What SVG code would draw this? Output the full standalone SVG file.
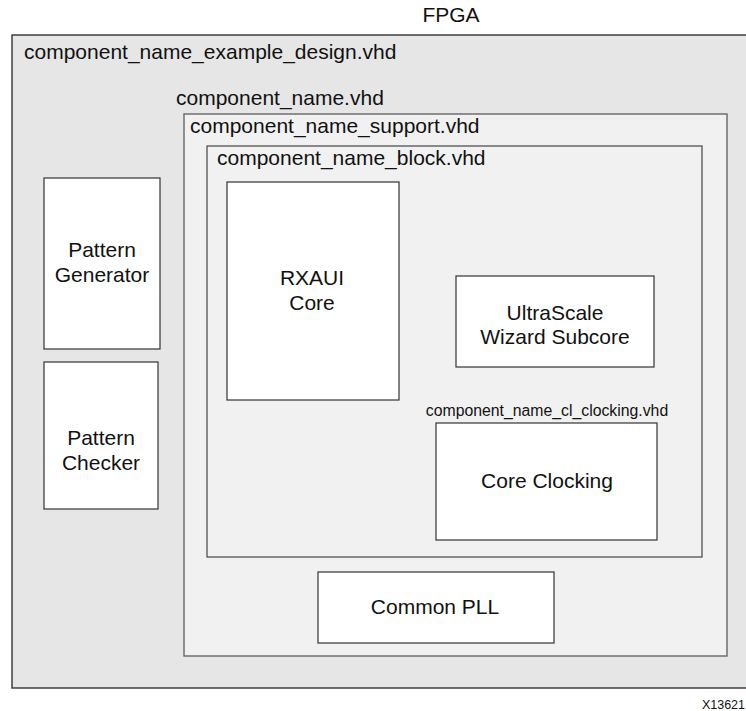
<svg xmlns="http://www.w3.org/2000/svg" width="746" height="711" viewBox="0 0 746 711">
<style>
text{font-family:"Liberation Sans",Arial,sans-serif;fill:#111}
.t{font-size:21px}
.c{text-anchor:middle}
.fpga{fill:#e6e6e6;stroke:#333;stroke-width:1.4}
.sup{fill:#f1f1f1;stroke:#666;stroke-width:1.4}
.blk{fill:#f1f1f1;stroke:#444;stroke-width:1.2}
.node{fill:#fff;stroke:#333;stroke-width:1.2}
</style>
<rect width="746" height="711" fill="#fff"/>
<text class="t c" x="451" y="22">FPGA</text>
<g id="example_design">
<rect class="fpga" x="12" y="35" width="740" height="653"/>
<text class="t" x="24" y="59">component_name_example_design.vhd</text>
</g>
<g id="component_name">
<text class="t" x="176" y="105">component_name.vhd</text>
</g>
<g id="support">
<rect class="sup" x="184" y="114" width="543" height="542"/>
<text class="t" x="190" y="133">component_name_support.vhd</text>
</g>
<g id="block">
<rect class="blk" x="207" y="146" width="495" height="411"/>
<text class="t" x="217" y="165">component_name_block.vhd</text>
</g>
<g id="pattern_generator">
<rect class="node" x="44" y="178" width="116" height="171"/>
<text class="t c" x="102" y="257">Pattern</text>
<text class="t c" x="102" y="282">Generator</text>
</g>
<g id="pattern_checker">
<rect class="node" x="44" y="362" width="114" height="147"/>
<text class="t c" x="101" y="445">Pattern</text>
<text class="t c" x="101" y="470">Checker</text>
</g>
<g id="rxaui_core">
<rect class="node" x="227" y="182" width="172" height="218"/>
<text class="t c" x="312" y="285">RXAUI</text>
<text class="t c" x="312" y="310">Core</text>
</g>
<g id="wizard_subcore">
<rect class="node" x="456" y="276" width="198" height="91"/>
<text class="t c" x="555" y="320">UltraScale</text>
<text class="t c" x="555" y="344">Wizard Subcore</text>
</g>
<g id="core_clocking">
<text class="c" x="547" y="416" font-size="15.8">component_name_cl_clocking.vhd</text>
<rect class="node" x="436" y="423" width="221" height="117"/>
<text class="t c" x="547" y="488">Core Clocking</text>
</g>
<g id="common_pll">
<rect class="node" x="318" y="572" width="236" height="71"/>
<text class="t c" x="435" y="614">Common PLL</text>
</g>
<text x="745" y="709" font-size="12.5" text-anchor="end">X13621</text>
</svg>
